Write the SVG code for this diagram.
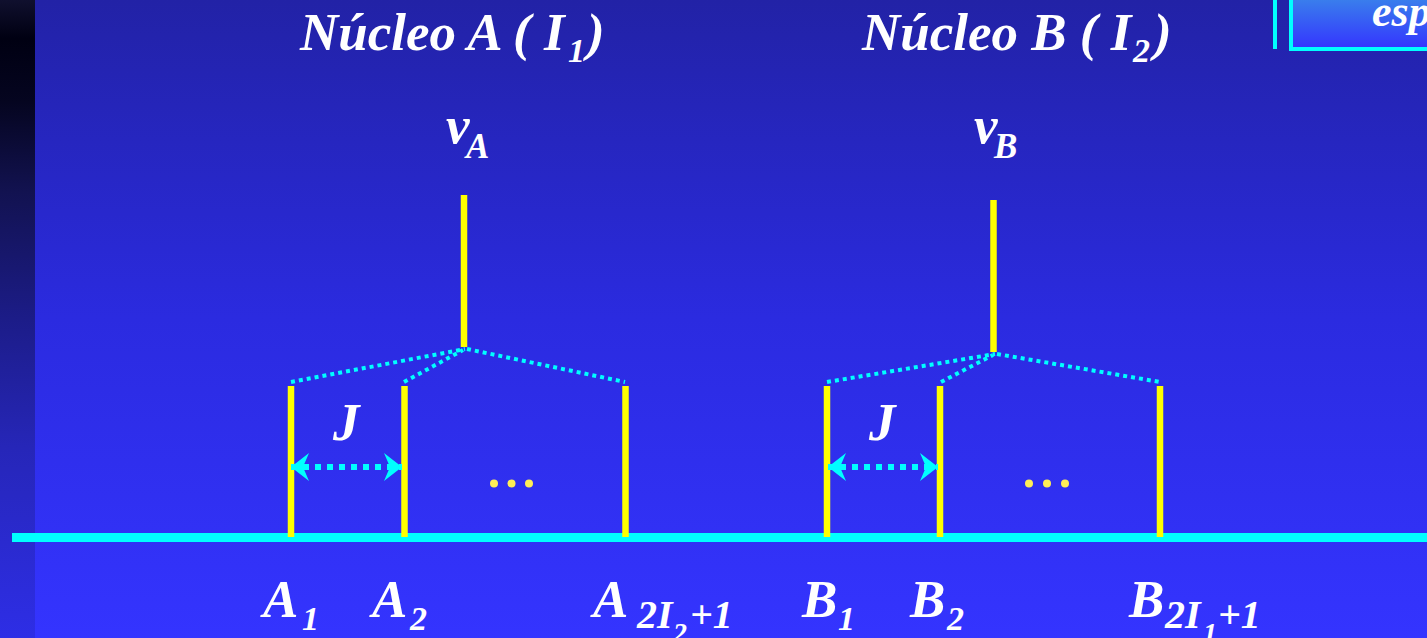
<svg xmlns="http://www.w3.org/2000/svg" width="1427" height="638" viewBox="0 0 1427 638">
  <defs>
    <linearGradient id="bg" x1="0" y1="0" x2="0" y2="1">
      <stop offset="0" stop-color="#2222a6"/>
      <stop offset="0.5" stop-color="#2b2be0"/>
      <stop offset="1" stop-color="#3434ff"/>
    </linearGradient>
    <linearGradient id="strip" x1="0" y1="0" x2="0" y2="1">
      <stop offset="0" stop-color="#10102e"/>
      <stop offset="0.06" stop-color="#000012"/>
      <stop offset="0.16" stop-color="#050520"/>
      <stop offset="0.3" stop-color="#121250"/>
      <stop offset="0.5" stop-color="#1c1c88"/>
      <stop offset="0.7" stop-color="#2626b8"/>
      <stop offset="1" stop-color="#2e2ee6"/>
    </linearGradient>
    <linearGradient id="boxfill" x1="0" y1="0" x2="0" y2="1">
      <stop offset="0" stop-color="#3a86ea"/>
      <stop offset="1" stop-color="#3434ff"/>
    </linearGradient>
    <marker id="head" markerUnits="userSpaceOnUse" viewBox="-20 -16 22 32" refX="0" refY="0" markerWidth="22" markerHeight="32" orient="auto-start-reverse">
      <path d="M0,0 L-18,-14 L-12,0 L-18,14 Z" fill="#00ffff"/>
    </marker>
  </defs>
  <style>
    text { font-family: "Liberation Serif", "Times New Roman", serif; font-weight: bold; font-style: italic; fill: #ffffff; }
    .big { font-size: 53px; }
    .mid { font-size: 40px; }
    .sub { font-size: 34px; }
    .ssub { font-size: 28px; }
    .level { stroke: #ffff00; stroke-width: 6.5; fill: none; }
    .split { stroke: #00ffff; stroke-width: 4; stroke-dasharray: 4 4; fill: none; }
    .jarrow { stroke: #00ffff; stroke-width: 6; stroke-dasharray: 6 6; fill: none; }
    .dot { fill: #ffee55; }
  </style>

  <rect x="0" y="0" width="1427" height="638" fill="url(#bg)"/>
  <rect x="0" y="0" width="35" height="638" fill="url(#strip)"/>

  <g id="corner-box">
    <rect x="1273" y="-2" width="4" height="51" fill="#00ffff"/>
    <rect x="1291" y="-6" width="160" height="55" fill="url(#boxfill)" stroke="#00ffff" stroke-width="4"/>
    <text x="1372" y="26" style="font-size:44px">esp</text>
  </g>

  <g id="baseline">
    <rect x="12" y="533" width="1415" height="9" fill="#00ffff"/>
  </g>

  <g id="titleA">
    <text class="big" x="300" y="50">Núcleo A ( I</text>
    <text class="sub" x="568" y="62">1</text>
    <text class="big" x="587" y="50">)</text>
  </g>
  <g id="titleB">
    <text class="big" x="862" y="50">Núcleo B ( I</text>
    <text class="sub" x="1133" y="62">2</text>
    <text class="big" x="1154" y="50">)</text>
  </g>

  <g id="nuA">
    <text class="big" x="446" y="143">ν</text>
    <text x="466" y="158" style="font-size:35px">A</text>
    <line class="level" x1="464" y1="195" x2="464" y2="347"/>
  </g>
  <g id="nuB">
    <text class="big" x="974" y="143">ν</text>
    <text x="994" y="158" style="font-size:35px">B</text>
    <line class="level" x1="993.5" y1="200" x2="993.5" y2="352"/>
  </g>

  <g id="A1">
    <line class="level" x1="291" y1="386" x2="291" y2="537"/>
    <text class="big" x="263" y="617">A</text>
    <text class="sub" x="302" y="630">1</text>
  </g>
  <g id="A2">
    <line class="level" x1="404.5" y1="386" x2="404.5" y2="537"/>
    <text class="big" x="372" y="617">A</text>
    <text class="sub" x="410" y="630">2</text>
  </g>
  <g id="An">
    <line class="level" x1="625.5" y1="386" x2="625.5" y2="537"/>
    <text class="big" x="593" y="617">A</text>
    <text class="mid" x="637" y="628">2I</text>
    <text class="ssub" x="673" y="642">2</text>
    <text class="mid" x="690" y="628">+1</text>
  </g>
  <g id="B1">
    <line class="level" x1="827" y1="386" x2="827" y2="537"/>
    <text class="big" x="802" y="617">B</text>
    <text class="sub" x="838" y="630">1</text>
  </g>
  <g id="B2">
    <line class="level" x1="940" y1="386" x2="940" y2="537"/>
    <text class="big" x="910" y="617">B</text>
    <text class="sub" x="947" y="630">2</text>
  </g>
  <g id="Bn">
    <line class="level" x1="1160" y1="386" x2="1160" y2="537"/>
    <text class="big" x="1129" y="617">B</text>
    <text class="mid" x="1165" y="628">2I</text>
    <text class="ssub" x="1203" y="642">1</text>
    <text class="mid" x="1218" y="628">+1</text>
  </g>

  <g id="ellipsisA">
    <circle class="dot" cx="494" cy="483.5" r="4"/>
    <circle class="dot" cx="511.5" cy="483.5" r="4"/>
    <circle class="dot" cx="529" cy="483.5" r="4"/>
  </g>
  <g id="ellipsisB">
    <circle class="dot" cx="1029" cy="483.5" r="4"/>
    <circle class="dot" cx="1047" cy="483.5" r="4"/>
    <circle class="dot" cx="1065" cy="483.5" r="4"/>
  </g>

  <g id="labelsJ">
    <text class="big" x="333" y="440">J</text>
    <text class="big" x="869" y="440">J</text>
  </g>

  <g id="connectors">
    <path class="split" d="M291,382 L465,349"/>
    <path class="split" d="M404,382 L463,350"/>
    <path class="split" d="M467,349 L625,382"/>
    <path class="split" d="M827,382 L995,354"/>
    <path class="split" d="M941,382 L993,355"/>
    <path class="split" d="M997,354 L1160,382"/>
    <path class="jarrow" d="M291,467 L402,467" marker-start="url(#head)" marker-end="url(#head)"/>
    <path class="jarrow" d="M828,467 L938,467" marker-start="url(#head)" marker-end="url(#head)"/>
  </g>
</svg>
